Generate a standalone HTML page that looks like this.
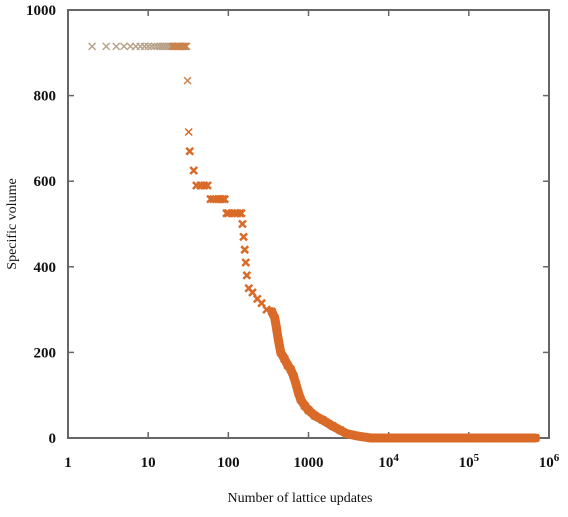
<!DOCTYPE html>
<html><head><meta charset="utf-8"><style>
body{margin:0;background:#fff;}
svg text{font-family:"Liberation Serif",serif;fill:#111;}
</style></head><body>
<svg width="568" height="512">
<rect x="68" y="10" width="481" height="428" fill="#fff" stroke="#666" stroke-width="2"/>
<g id="ticks"></g><g id="series"></g>
<text x="300" y="502" text-anchor="middle" font-size="14">Number of lattice updates</text>
<text transform="translate(16,224) rotate(-90)" text-anchor="middle" font-size="14">Specific volume</text>
</svg>
<script>
const xTickLabels=["1","10","100","1000","10^4","10^5","10^6"];
const yTicks=[0,200,400,600,800,1000];
const xs=[2,3,4,5,6,7,8,9,10,11,12,13,14,15,16,17,18,19,20,21,22,23,24,25,26,27,28,29,30,31,32,33,37,40,45,50,55,60,65,70,75,80,85,90,95,100,110,120,130,140,145,150,155,160,165,170,180,200,230,260,300,350,380,400,420,450,500,550,600,650,700,750,800,900,1000,1200,1500,2000,2500,3000,4000,5000,6000,8000,10000,20000,50000,100000,200000,500000,680000];
const ys=[915,915,915,915,915,915,915,915,915,915,915,915,915,915,915,915,915,915,915,915,915,915,915,915,915,915,915,915,915,835,715,670,625,590,590,590,590,558,558,558,558,558,558,558,525,525,525,525,525,525,525,500,470,440,410,380,350,340,325,315,300,295,280,255,230,200,185,170,160,145,125,105,90,75,65,52,42,28,18,10,5,2,0,0,0,0,0,0,0,0,0];
const NS="http://www.w3.org/2000/svg";
const X0=68,X1=549,Y0=438,Y1=10;
function sx(v){return X0+Math.log10(v)/6*(X1-X0);}
function sy(v){return Y0-v/1000*(Y0-Y1);}
const tk=document.getElementById('ticks');
function mk(tag,attrs,parent){const e=document.createElementNS(NS,tag);for(const k in attrs)e.setAttribute(k,attrs[k]);parent.appendChild(e);return e;}
xTickLabels.forEach((l,i)=>{
 const x=sx(Math.pow(10,i));
 const t=mk('line',{x1:x,x2:x,y1:Y0,y2:Y0-6,stroke:'#666','stroke-width':1.5},tk);
 
 
 const t2=mk('line',{x1:x,x2:x,y1:Y1,y2:Y1+6,stroke:'#666','stroke-width':1.5},tk);
 
 
 const tx=mk('text',{x:x,y:467,'text-anchor':'middle','font-size':15,'font-weight':'bold'},tk);
 
 
 if(l.indexOf('^')>0){const p=l.split('^');tx.textContent=p[0];const s=mk('tspan',{dy:-6,'font-size':11},tx);s.textContent=p[1];}
 else tx.textContent=l;
});
yTicks.forEach(v=>{
 const y=sy(v);
 const t=mk('line',{x1:X0,x2:X0+6,y1:y,y2:y,stroke:'#666','stroke-width':1.5},tk);
 
 
 const t2=mk('line',{x1:X1,x2:X1-6,y1:y,y2:y,stroke:'#666','stroke-width':1.5},tk);
 
 
 const tx=mk('text',{x:56,y:y+5,'text-anchor':'end','font-size':15,'font-weight':'bold'},tk);
 
 
 tx.textContent=v;
});
const sg=document.getElementById('series');
let pts=[];
xs.forEach((x,i)=>{if(x>=350)pts.push(sx(x).toFixed(1)+','+sy(ys[i]).toFixed(1));});
const pl=mk('polyline',{points:pts.join(' '),fill:'none',stroke:'#d96a28','stroke-width':9,'stroke-linejoin':'round','stroke-linecap':'round'},sg);


xs.forEach((x,i)=>{
 const cx=sx(x),cy=sy(ys[i]);
 const col=x<20?'#b8a28a':(x<32?'#c9844c':'#d96a28');
 const d=3.5;
 const p=mk('path',{d:`M${cx-d},${cy-d}L${cx+d},${cy+d}M${cx-d},${cy+d}L${cx+d},${cy-d}`,stroke:col,'stroke-width':x>=33?2.5:1.5,fill:'none'},sg);
 
 
});
</script>
</body></html>
